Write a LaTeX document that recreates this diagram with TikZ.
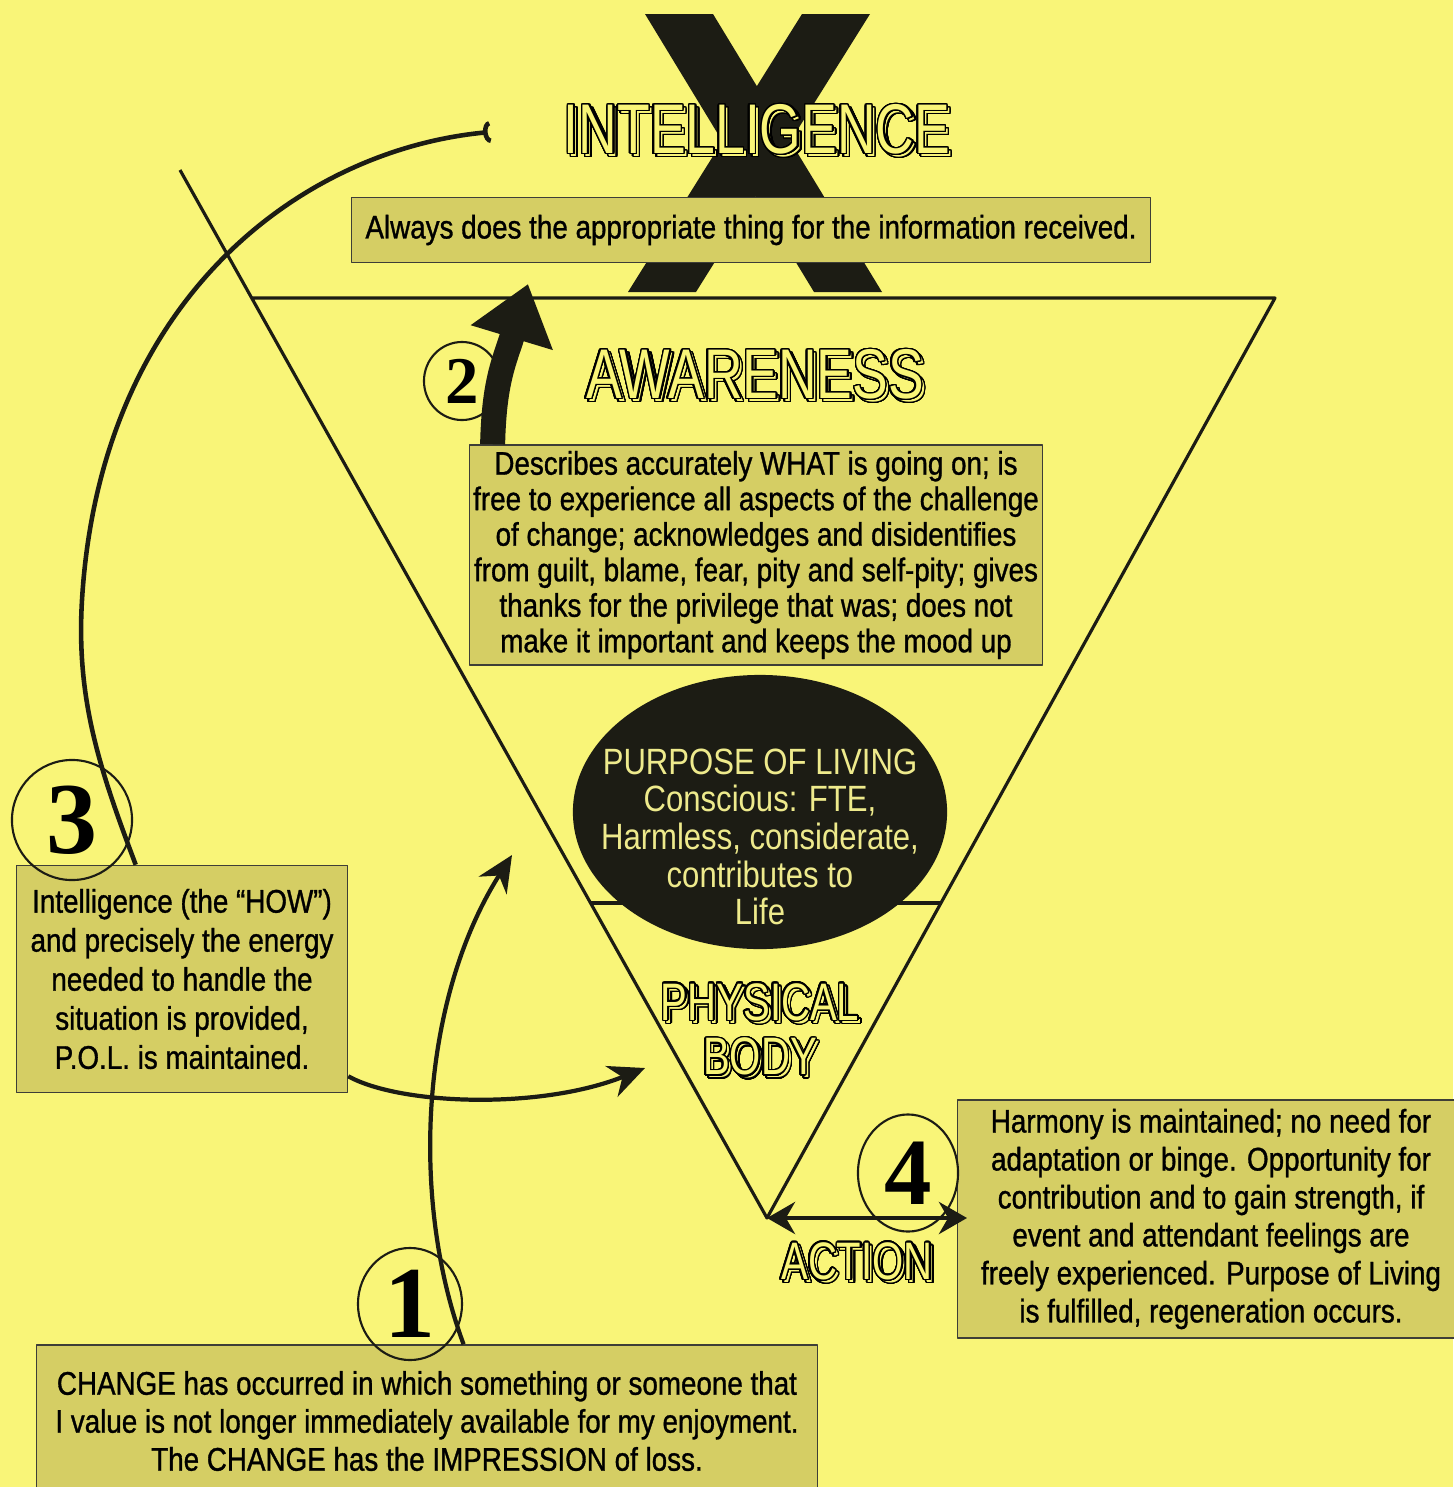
\documentclass[tikz,border=0pt]{standalone}
\usepackage{fontspec}
\setmainfont[FakeStretch=0.85,FakeBold=1]{Liberation Sans}
\newfontfamily\plainfont[FakeStretch=0.85]{Liberation Sans}
\newfontfamily\titlefont[FakeStretch=0.76]{Liberation Sans}
\newfontfamily\numfont{Liberation Serif}
\usepackage{contour}
\contourlength{0.42pt}
\contournumber{32}
\usetikzlibrary{arrows.meta,shapes.geometric,calc,positioning}
\definecolor{paper}{RGB}{249,245,120}
\definecolor{boxfill}{RGB}{213,206,100}
\definecolor{ink}{RGB}{28,28,20}
\definecolor{lemon}{RGB}{238,234,140}
\newcommand{\hollow}[1]{\contour{black}{#1}}

\begin{document}
\begin{tikzpicture}[
    x=0.01cm, y=-0.01cm,
    line join=round,
    infobox/.style  = {draw=ink!85, line width=0.4pt, fill=boxfill, align=center, inner sep=0pt,
                       font=\fontsize{9.3}{10.8}\selectfont},
    heading/.style  = {inner sep=0pt, text=paper, align=center, font=\titlefont\fontsize{20}{20}\selectfont},
    subheading/.style = {heading, font=\titlefont\fontsize{15}{15.6}\selectfont},
    numring/.style  = {draw=ink, line width=0.6pt, ellipse, inner sep=0pt},
    vline/.style    = {line width=0.9pt, draw=ink},
    flow/.style     = {line width=1.2pt, draw=ink, -{Stealth[length=0.36cm,width=0.33cm]}},
  ]

  % Hintergrund
  \fill[paper] (0,0) rectangle (1453,1487);
  \useasboundingbox (0,0) rectangle (1453,1487);

  % grosses X
  \fill[ink] (645,14) -- (713,14) -- (882,292) -- (814,292) -- cycle;
  \fill[ink] (802,14) -- (870,14) -- (696,292) -- (628,292) -- cycle;

  % Intelligenz
  \node[heading] (intel shadow) at (760,133) {\hollow{INTELLIGENCE}};
  \node[heading] (intel) at (757,130) {\hollow{INTELLIGENCE}};
  \node[infobox, minimum width=7.98cm, minimum height=0.65cm] (always) at (751,230)
    {Always does the appropriate thing for the information received.};

  % Dreieck
  \coordinate (tl) at (180,170);
  \coordinate (apex) at (767,1218);
  \coordinate (hl) at (252,298);
  \coordinate (hr) at (1275,298);
  \coordinate (il) at (591,903);
  \coordinate (ir) at (941,903);
  \draw[vline] (tl) -- (apex) -- (hr) -- (hl);
  \draw[vline] (il) -- (ir);

  % Purpose of Living
  \node[ellipse, fill=ink, minimum width=3.74cm, minimum height=2.74cm] (pol) at (760,812) {};
  \node[text=lemon, align=center, inner sep=0pt, font=\plainfont\fontsize{10.4}{10.7}\selectfont] (pol text)
    at ($(pol.center)+(0,25)$)
    {PURPOSE OF LIVING\\Conscious: FTE,\\Harmless, considerate,\\contributes to\\Life};

  % Bewusstsein
  \node[heading] (aware shadow) at (758,378) {\hollow{AWARENESS}};
  \node[heading] (aware title) at (755,375) {\hollow{AWARENESS}};
  \node[infobox, minimum width=5.73cm, minimum height=2.2cm, font=\fontsize{9.3}{10.1}\selectfont] (aware)
    at (756,555)
    {Describes accurately WHAT is going on; is\\free to experience all aspects of the challenge\\of change; acknowledges and disidentifies\\from guilt, blame, fear, pity and self-pity; gives\\thanks for the privilege that was; does not\\make it important and keeps the mood up};

  % Koerper und Handlung
  \node[subheading] (body shadow) at (763,1033) {\hollow{PHYSICAL}\\\hollow{BODY}};
  \node[subheading] (body title) at (760,1030) {\hollow{PHYSICAL}\\\hollow{BODY}};
  \node[subheading] (action shadow) at (860,1265) {\hollow{ACTION}};
  \node[subheading] (action title) at (857,1262) {\hollow{ACTION}};

  % Textkaesten
  \node[infobox, minimum width=3.31cm, minimum height=2.27cm, font=\fontsize{9.3}{11.1}\selectfont] (how)
    at (182,979)
    {Intelligence (the “HOW”)\\and precisely the energy\\needed to handle the\\situation is provided,\\P.O.L. is maintained.};
  \node[infobox, minimum width=7.81cm, minimum height=1.52cm] (change) at (427,1421)
    {CHANGE has occurred in which something or someone that\\I value is not longer immediately available for my enjoyment.\\The CHANGE has the IMPRESSION of loss.};
  \node[infobox, minimum width=5.07cm, minimum height=2.38cm] (harmony) at (1211,1219)
    {Harmony is maintained; no need for\\adaptation or binge. Opportunity for\\contribution and to gain strength, if\\event and attendant feelings are\\freely experienced. Purpose of Living\\is fulfilled, regeneration occurs.};

  % Pfeile
  \coordinate (tip1) at (512,855);
  \draw[flow] ($(change.north west)+(428,0)$) .. controls (410,1200) and (420,1000) .. (tip1);
  \coordinate (tip3) at (645,1068);
  \draw[flow] ($(how.south east)+(0,-17)$) .. controls (400,1105) and (540,1110) .. (tip3);
  \coordinate (back) at (490,132);
  \draw[line width=1.3pt, ink, -{Arc Barb[reversed,width=0.22cm,length=0.07cm]}]
    ($(how.north west)+(120,0)$) .. controls (100,770) and (76,700) .. (82,600)
    .. controls (100,300) and (300,150) .. (back);
  \coordinate (tip2) at (528,284);
  \draw[ink, line width=0.25cm, -{Triangle[length=0.56cm,width=0.82cm]}]
    ($(aware.north west)+(24,0)$) .. controls (494,380) and (505,360) .. (tip2);
  \coordinate (act) at (967,1218);
  \draw[ink, line width=1.3pt, {Stealth[length=0.28cm,width=0.32cm]}-{Stealth[length=0.28cm,width=0.32cm]}]
    (apex) -- (act);

  % Nummern
  \node[numring, minimum width=0.76cm, minimum height=0.78cm, font=\numfont\bfseries\fontsize{19}{19}\selectfont]
    (n2) at (462,381) {2};
  \node[numring, minimum size=1.2cm, font=\numfont\bfseries\fontsize{29}{29}\selectfont]
    (n3) at (72,820) {3};
  \node[numring, minimum width=1.04cm, minimum height=1.12cm, font=\numfont\bfseries\fontsize{29}{29}\selectfont]
    (n1) at (410,1304) {1};
  \node[numring, minimum width=1.0cm, minimum height=1.17cm, font=\numfont\bfseries\fontsize{27}{27}\selectfont]
    (n4) at (908,1173) {4};

\end{tikzpicture}
\end{document}
